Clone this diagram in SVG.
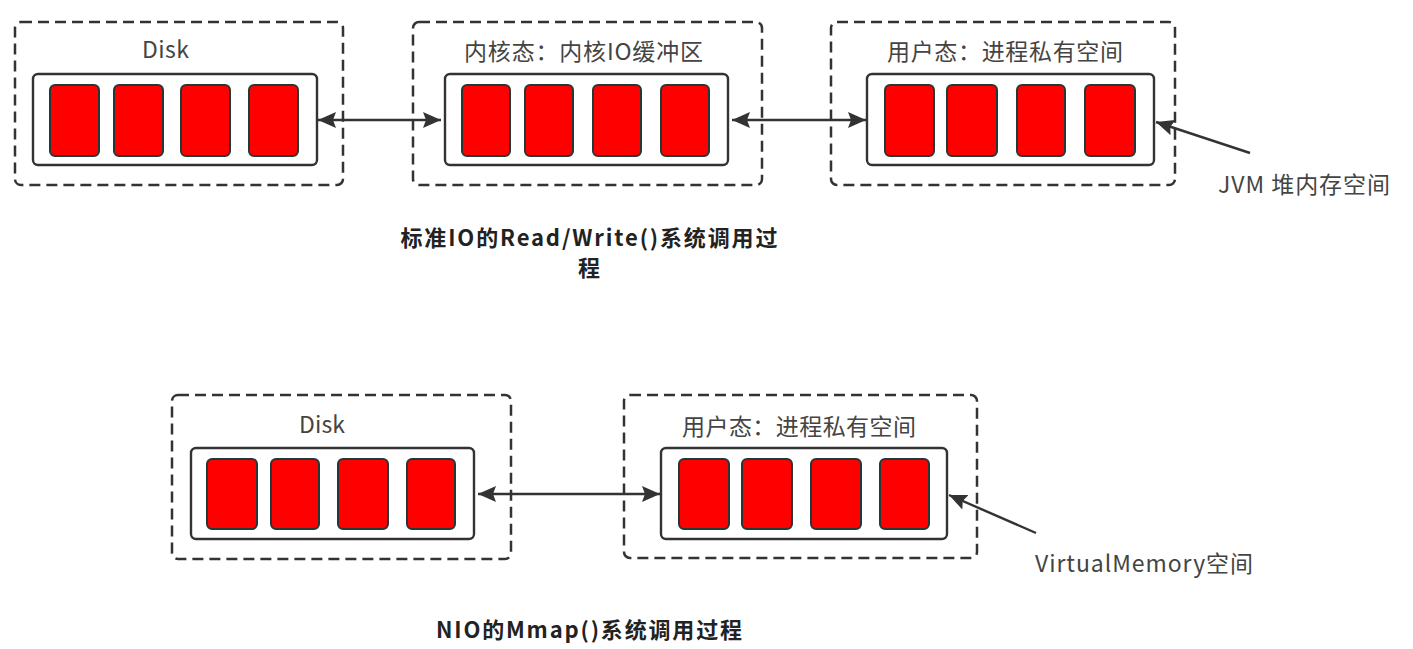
<svg xmlns="http://www.w3.org/2000/svg" width="1413" height="649" viewBox="0 0 1413 649">
<defs>
<style>
.outer{fill:none;stroke:#333;stroke-width:2.5;stroke-dasharray:11 6}
.inner{fill:#fff;stroke:#333;stroke-width:2.4}
.cell{fill:#ff0000;stroke:#243838;stroke-width:2}
.lbl{font-family:"Noto Sans CJK SC","Noto Sans",sans-serif;font-size:23px;fill:#444}
.cap{font-family:"Noto Sans CJK SC","Noto Sans",sans-serif;font-size:22px;font-weight:bold;fill:#222;text-anchor:middle}
.conn{stroke:#333;stroke-width:2.4;fill:none}
</style>
<marker id="ah" viewBox="0 0 18 16" refX="18" refY="8" markerWidth="18" markerHeight="16" markerUnits="userSpaceOnUse" orient="auto-start-reverse">
<path d="M0,0 L18,8 L0,16 L3,8 z" fill="#333"/>
</marker>
</defs>
<rect width="1413" height="649" fill="#fff"/>

<g id="disk1">
<rect class="outer" x="15" y="22" width="328" height="163" rx="6"/>
<rect class="inner" x="33" y="74" width="284" height="91" rx="5"/>
<rect class="cell" x="50" y="85" width="49" height="71" rx="5"/>
<rect class="cell" x="114" y="85" width="49" height="71" rx="5"/>
<rect class="cell" x="181" y="85" width="49" height="71" rx="5"/>
<rect class="cell" x="249" y="85" width="49" height="71" rx="5"/>
<text class="lbl" x="142" y="58" textLength="47">Disk</text>
</g>

<g id="kernel">
<rect class="outer" x="413" y="22" width="349" height="163" rx="6"/>
<rect class="inner" x="445" y="74" width="283" height="91" rx="5"/>
<rect class="cell" x="462" y="85" width="48" height="71" rx="5"/>
<rect class="cell" x="525" y="85" width="48" height="71" rx="5"/>
<rect class="cell" x="593" y="85" width="48" height="71" rx="5"/>
<rect class="cell" x="661" y="85" width="48" height="71" rx="5"/>
<text class="lbl" x="464" y="60" textLength="239">内核态：内核IO缓冲区</text>
</g>

<g id="user1">
<rect class="outer" x="831" y="22" width="344" height="163" rx="6"/>
<rect class="inner" x="867" y="74" width="287" height="91" rx="5"/>
<rect class="cell" x="885" y="85" width="49" height="71" rx="5"/>
<rect class="cell" x="947" y="85" width="50" height="71" rx="5"/>
<rect class="cell" x="1017" y="85" width="48" height="71" rx="5"/>
<rect class="cell" x="1085" y="85" width="50" height="71" rx="5"/>
<text class="lbl" x="887" y="60" textLength="236">用户态：进程私有空间</text>
</g>

<g id="jvm-label">
<text class="lbl" x="1218" y="193" textLength="172">JVM 堆内存空间</text>
</g>

<g id="caption1">
<text class="cap" x="589" y="246" textLength="377">标准IO的Read/Write()系统调用过</text>
<text class="cap" x="589" y="276">程</text>
</g>

<g id="disk2">
<rect class="outer" x="172" y="395" width="339" height="164" rx="6"/>
<rect class="inner" x="191" y="448" width="283" height="91" rx="5"/>
<rect class="cell" x="207" y="459" width="50" height="70" rx="5"/>
<rect class="cell" x="271" y="459" width="48" height="70" rx="5"/>
<rect class="cell" x="338" y="459" width="50" height="70" rx="5"/>
<rect class="cell" x="407" y="459" width="48" height="70" rx="5"/>
<text class="lbl" x="299" y="433" textLength="46">Disk</text>
</g>

<g id="user2">
<rect class="outer" x="624" y="395" width="353" height="163" rx="6"/>
<rect class="inner" x="661" y="448" width="286" height="91" rx="5"/>
<rect class="cell" x="679" y="459" width="50" height="70" rx="5"/>
<rect class="cell" x="742" y="459" width="50" height="70" rx="5"/>
<rect class="cell" x="811" y="459" width="50" height="70" rx="5"/>
<rect class="cell" x="880" y="459" width="49" height="70" rx="5"/>
<text class="lbl" x="682" y="435" textLength="234">用户态：进程私有空间</text>
</g>

<g id="vm-label">
<text class="lbl" x="1035" y="572" textLength="218">VirtualMemory空间</text>
</g>

<g id="caption2">
<text class="cap" x="589" y="638" textLength="306">NIO的Mmap()系统调用过程</text>
</g>

<g id="connectors">
<line class="conn" x1="318" y1="120" x2="441" y2="120" marker-start="url(#ah)" marker-end="url(#ah)"/>
<line class="conn" x1="732" y1="120" x2="866" y2="120" marker-start="url(#ah)" marker-end="url(#ah)"/>
<line class="conn" x1="1250" y1="153" x2="1156" y2="122" marker-end="url(#ah)"/>
<line class="conn" x1="478" y1="494" x2="660" y2="494" marker-start="url(#ah)" marker-end="url(#ah)"/>
<line class="conn" x1="1036" y1="533" x2="949" y2="495" marker-end="url(#ah)"/>
</g>
</svg>
